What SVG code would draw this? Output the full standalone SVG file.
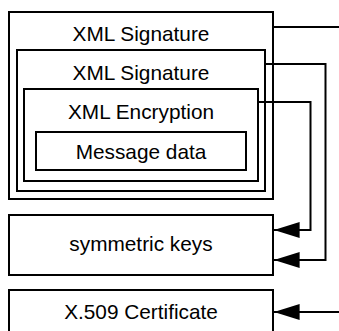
<svg xmlns="http://www.w3.org/2000/svg" width="339" height="331" viewBox="0 0 339 331">
<style>
.box{fill:#fff;stroke:#000;stroke-width:2}
.lbl{font-family:"Liberation Sans",Arial,sans-serif;font-size:20.8px;fill:#000;text-anchor:middle}
.conn{fill:none;stroke:#000;stroke-width:2}
</style>
<defs>
<marker id="arr" markerUnits="userSpaceOnUse" markerWidth="26" markerHeight="16" viewBox="0 0 24 15" refX="24" refY="7.5" orient="auto">
<path d="M0,0 L24,7.5 L0,15 Z" fill="#000"/>
</marker>
</defs>
<g id="sig-outer">
<rect class="box" x="9" y="12" width="264" height="187"/>
<text class="lbl" x="141" y="41">XML Signature</text>
</g>
<g id="sig-inner">
<rect class="box" x="17" y="50" width="248" height="141"/>
<text class="lbl" x="141" y="79.5">XML Signature</text>
</g>
<g id="encryption">
<rect class="box" x="24" y="89" width="234" height="92"/>
<text class="lbl" x="141" y="119">XML Encryption</text>
</g>
<g id="message">
<rect class="box" x="36" y="132" width="210" height="38"/>
<text class="lbl" x="141" y="158.5">Message data</text>
</g>
<g id="keys">
<rect class="box" x="9" y="215" width="264" height="60"/>
<text class="lbl" x="141" y="251">symmetric keys</text>
</g>
<g id="cert">
<rect class="box" x="9" y="290" width="264" height="60"/>
<text class="lbl" x="141" y="318.5">X.509 Certificate</text>
</g>
<g id="connectors">
<path class="conn" d="M273,27 L339,27"/>
<path class="conn" d="M265,64 L325.5,64 L325.5,260 L274,260" marker-end="url(#arr)"/>
<path class="conn" d="M258,102 L310.5,102 L310.5,230 L274,230" marker-end="url(#arr)"/>
<path class="conn" d="M339,312 L274,312" marker-end="url(#arr)"/>
</g>
</svg>
